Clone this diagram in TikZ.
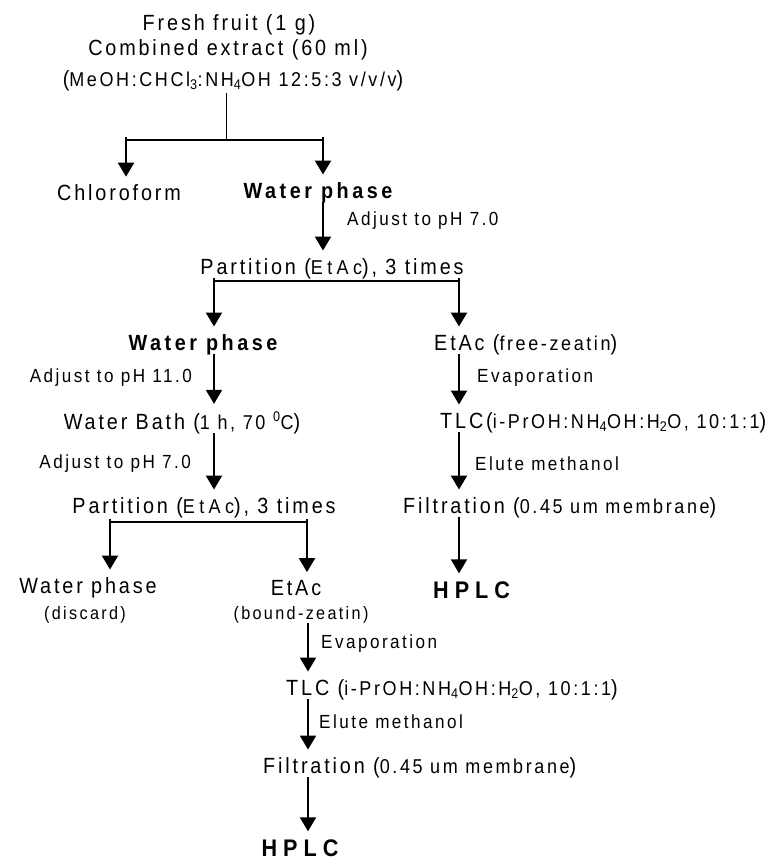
\documentclass[tikz,border=0pt]{standalone}
\usepackage{fontspec}
\setmainfont[LetterSpace=13,FakeStretch=0.9]{Liberation Sans}
\usetikzlibrary{arrows.meta,calc}
\newcommand\smtxt{\fontsize{20}{22}\selectfont}
\newcommand\lbltxt{\fontsize{19}{21}\selectfont}
\newcommand\etac{{\smtxt\addfontfeature{LetterSpace=22}EtAc}}
\tikzset{txt/.style={inner sep=2pt,font=\fontsize{22}{24}\selectfont},
  boldtxt/.style={txt,font=\fontsize{22}{24}\selectfont\bfseries\addfontfeature{LetterSpace=16}},
  hplc/.style={inner sep=2pt,font=\fontsize{24}{26}\selectfont\bfseries\addfontfeature{LetterSpace=25}},
  lbl/.style={inner sep=1pt,anchor=west,font=\lbltxt},
  flow/.style={draw,line width=2pt,shorten >=6pt,shorten <=-3pt,-{Triangle[width=16pt,length=14pt]}},
  fork/.style={draw,line width=1.6pt},
  stem/.style={draw,line width=0.9pt}}

\begin{document}
\begin{tikzpicture}[x=1pt,y=-1pt]
    \useasboundingbox (0,0) rectangle (767,861);
    % Sample and extraction
    \node[txt] (fruit) at (229,25) {Fresh fruit (1 g)};
    \node[txt] (extract) at (228,50) {Combined extract (60 ml)};
    \node[txt] (solvent) at (233,81) {({\smtxt MeOH:CHCl\textsubscript{3}:NH\textsubscript{4}OH 12:5:3 v/v/v})};
    \node[txt] (chloro) at (119,193) {Chloroform};
    \node[boldtxt] (wpA) at (318,193) {Water phase};
    \node[txt] (partA) at (332,269) {Partition (\etac), 3 times};

    % Left branch: bound zeatin
    \node[boldtxt] (wpB) at (203,345) {Water phase};
    \node[txt] (bath) at (182,423) {Water Bath ({\smtxt 1 h, 70 \textsuperscript{0}C})};
    \node[txt] (partB) at (204,508) {Partition (\etac), 3 times};
    \node[txt] (wpC) at (88,588) {Water phase};
    \node[txt,font=\fontsize{18}{20}\selectfont] (discard) at (85,615) {(discard)};
    \node[txt] (etacB) at (296,588) {EtAc};
    \node[txt,font=\fontsize{18}{20}\selectfont] (bound) at (301,615) {(bound-zeatin)};
    \node[txt,anchor=west] (tlcB) at (284,690) {TLC ({\smtxt i-PrOH:NH\textsubscript{4}OH:H\textsubscript{2}O, 10:1:1})};
    \node[txt,anchor=west] (filtB) at (261,768) {Filtration ({\smtxt 0.45 um membrane})};
    \node[hplc] (hplcB) at (300,848) {HPLC};

    % Right branch: free zeatin
    \node[txt,anchor=west] (freeE) at (432,345) {EtAc ({\smtxt free-zeatin})};
    \node[txt,anchor=west] (tlcA) at (438,423) {TLC({\smtxt i-PrOH:NH\textsubscript{4}OH:H\textsubscript{2}O, 10:1:1})};
    \node[txt,anchor=west] (filtA) at (401,508) {Filtration ({\smtxt 0.45 um membrane})};
    \node[hplc,anchor=west] (hplcA) at (431,590) {HPLC};

    % Step labels beside the arrows
    \foreach \pos/\name/\txt in {{(346,221)/adjA/Adjust to pH 7.0}, {(476,378)/evapA/Evaporation},
        {(474,464)/eluteA/Elute methanol}, {(320,644)/evapB/Evaporation}, {(318,722)/eluteB/Elute methanol}}
        \node[lbl] (\name) at \pos {\txt};
    \node[lbl,anchor=east] (adjB) at (193,378) {Adjust to pH 11.0};
    \node[lbl,anchor=east] (adjC) at (192,464) {Adjust to pH 7.0};

    % Columns and forks
    \coordinate (fkA) at (226,140);
    \coordinate (fkAl) at (126,140);
    \coordinate (fkAr) at (323,140);
    \coordinate (fkBl) at (214,281);
    \coordinate (fkBr) at (459,281);
    \coordinate (fkCl) at (110,522);
    \coordinate (fkCr) at (307,522);
    \coordinate (colB) at (308,0);

    \path[stem] (solvent.south -| fkA) -- (fkA);
    \path[fork] (fkAl) -- (fkAr);
    \path[flow] (fkAl) -- (fkAl |- chloro.north);
    \path[flow] (fkAr) -- (fkAr |- wpA.north);
    \path[flow] (wpA.south -| fkAr) -- (partA.north -| fkAr);

    \path[fork] (fkBl) -- (fkBr);
    \path[flow] (fkBl) -- (fkBl |- wpB.north);
    \path[flow] (fkBr) -- (fkBr |- freeE.north);
    \foreach \source/ \dest in {wpB/bath, bath/partB}
        \path[flow] (\source.south -| fkBl) -- (\dest.north -| fkBl);
    \foreach \source/ \dest in {freeE/tlcA, tlcA/filtA, filtA/hplcA}
        \path[flow] (\source.south -| fkBr) -- (\dest.north -| fkBr);

    \path[fork] (fkCl) -- (fkCr);
    \path[flow] (fkCl) -- (fkCl |- wpC.north);
    \path[flow] (fkCr) -- (fkCr |- etacB.north);
    \foreach \source/ \dest in {bound/tlcB, tlcB/filtB, filtB/hplcB}
        \path[flow] (\source.south -| colB) -- (\dest.north -| colB);
\end{tikzpicture}
\end{document}
